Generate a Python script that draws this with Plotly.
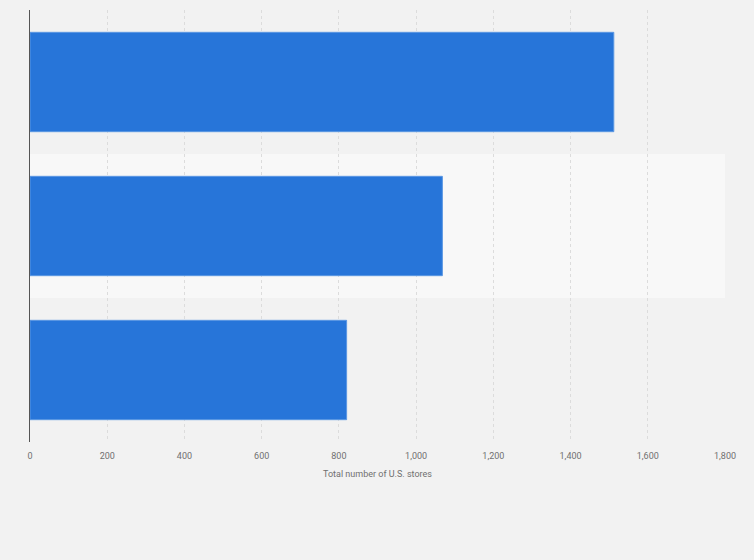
import plotly.graph_objects as go

categories = ["Category 1", "Category 2", "Category 3"]
stores = [1512, 1068, 820]
x_ticks = [0, 200, 400, 600, 800, 1000, 1200, 1400, 1600, 1800]
x_tick_labels = ["0", "200", "400", "600", "800", "1,000", "1,200", "1,400", "1,600", "1,800"]
x_title = "Total number of U.S. stores"

fig = go.Figure(go.Bar(
    x=stores, y=categories, orientation="h",
    marker=dict(color="#2775d9", line=dict(color="#5b97e3", width=1)),
    hoverinfo="x",
))

fig.update_layout(
    width=754, height=560,
    margin=dict(l=30, r=29, t=10, b=118),
    paper_bgcolor="#f2f2f2", plot_bgcolor="#f2f2f2",
    bargap=0.31,
    showlegend=False,
    font=dict(family="Roboto, Arial, sans-serif", color="#666666"),
    shapes=[dict(type="rect", xref="paper", yref="y domain", x0=0, x1=1,
                 y0=1/3, y1=2/3, fillcolor="#f8f8f8", line=dict(width=0), layer="below")],
)
fig.update_xaxes(
    range=[0, 1800], tickvals=x_ticks, ticktext=x_tick_labels,
    showgrid=True, gridcolor="#dcdcdc", griddash="dot", gridwidth=1,
    zeroline=False, tickfont=dict(size=9, color="#707070"), ticks="",
    ticklabelstandoff=7,
    title=dict(text=x_title, font=dict(size=9, color="#707070"), standoff=10),
)
fig.update_yaxes(
    autorange="reversed", showticklabels=False, showgrid=False,
    showline=True, linecolor="#555555", linewidth=1, ticks="",
)
fig.write_html(
    "out.html",
    config={"displayModeBar": False},
    post_script="document.body.style.margin='0';document.body.style.background='#f2f2f2';",
)
